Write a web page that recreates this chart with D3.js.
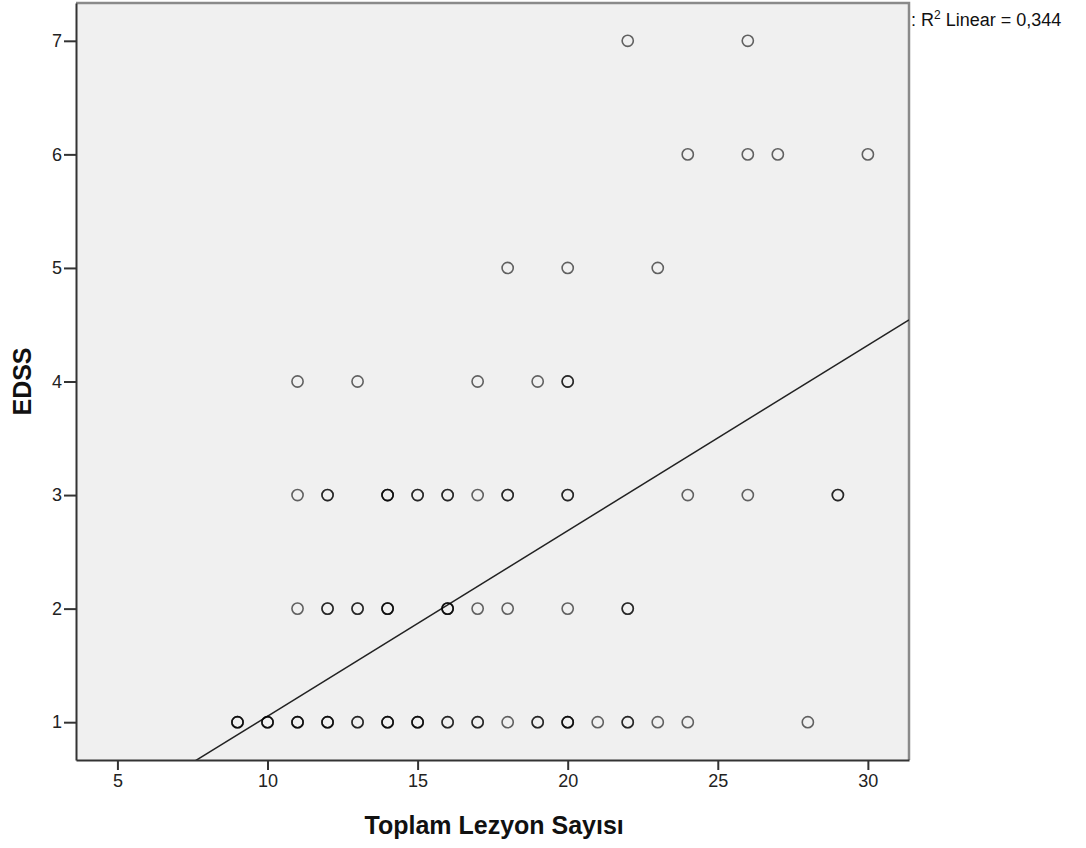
<!DOCTYPE html>
<html>
<head>
<meta charset="utf-8">
<script src="https://cdn.jsdelivr.net/npm/d3@7"></script>
<style>
  body { margin: 0; background: #fff; }
  text { font-family: "Liberation Sans", Arial, sans-serif; }
</style>
</head>
<body>
<script>
// Lesion count (x) and EDSS (y), one entry per case; repeated cases overlap
var lezyon = [
  22, 26,
  24, 26, 27, 30,
  18, 20, 23,
  11, 13, 17, 19, 20, 20,
  11, 12, 12, 14, 14, 14, 15, 15, 16, 16, 17, 18, 18, 20, 20, 24, 26, 29, 29,
  11, 12, 12, 13, 13, 14, 14, 14, 16, 16, 16, 17, 18, 20, 22, 22,
  9, 9, 9, 10, 10, 10, 11, 11, 11, 12, 12, 12, 13, 13, 14, 14, 14, 15, 15, 15,
  16, 16, 17, 17, 18, 19, 19, 20, 20, 20, 21, 22, 22, 23, 24, 28
];
var edss = [
  7, 7,
  6, 6, 6, 6,
  5, 5, 5,
  4, 4, 4, 4, 4, 4,
  3, 3, 3, 3, 3, 3, 3, 3, 3, 3, 3, 3, 3, 3, 3, 3, 3, 3, 3,
  2, 2, 2, 2, 2, 2, 2, 2, 2, 2, 2, 2, 2, 2, 2, 2,
  1, 1, 1, 1, 1, 1, 1, 1, 1, 1, 1, 1, 1, 1, 1, 1, 1, 1, 1, 1,
  1, 1, 1, 1, 1, 1, 1, 1, 1, 1, 1, 1, 1, 1, 1, 1
];

var xTicks = [5, 10, 15, 20, 25, 30];
var yTicks = [1, 2, 3, 4, 5, 6, 7];

// fit line
var fitIntercept = -0.58;
var fitSlope = 0.1633;
var fitLabel = "0,344";

var svgWidth = 1086;
var svgHeight = 848;
var margin = { top: 3, right: 177, bottom: 88, left: 76 };
var chartWidth = svgWidth - margin.left - margin.right;
var chartHeight = svgHeight - margin.top - margin.bottom;

var svg = d3.select("body")
  .append("svg")
  .attr("width", svgWidth)
  .attr("height", svgHeight);

var chartGroup = svg.append("g")
  .attr("transform", `translate(${margin.left}, ${margin.top})`);

var xScale = d3.scaleLinear()
  .domain([3.62, 31.37])
  .range([0, chartWidth]);

var yScale = d3.scaleLinear()
  .domain([0.667, 7.333])
  .range([chartHeight, 0]);

// plot background
chartGroup.append("rect")
  .attr("width", chartWidth)
  .attr("height", chartHeight)
  .attr("fill", "#f0f0f0");

// gray frame on top and right
chartGroup.append("path")
  .attr("d", `M0,0H${chartWidth}V${chartHeight}`)
  .attr("fill", "none")
  .attr("stroke", "#8a8a8a")
  .attr("stroke-width", 2.5);

chartGroup.append("clipPath")
  .attr("id", "plot-clip")
  .append("rect")
  .attr("width", chartWidth)
  .attr("height", chartHeight);

// regression line
var x0 = xScale.domain()[0], x1 = xScale.domain()[1];
chartGroup.append("line")
  .attr("clip-path", "url(#plot-clip)")
  .attr("x1", xScale(x0))
  .attr("y1", yScale(fitIntercept + fitSlope * x0))
  .attr("x2", xScale(x1))
  .attr("y2", yScale(fitIntercept + fitSlope * x1))
  .attr("stroke", "#222")
  .attr("stroke-width", 1.5);

// points
chartGroup.append("g")
  .selectAll("circle")
  .data(d3.range(lezyon.length))
  .enter()
  .append("circle")
  .attr("cx", i => xScale(lezyon[i]))
  .attr("cy", i => yScale(edss[i]))
  .attr("r", 5.6)
  .attr("fill", "none")
  .attr("stroke", "#000")
  .attr("stroke-opacity", 0.6)
  .attr("stroke-width", 1.6);

// axes
var bottomAxis = d3.axisBottom(xScale).tickValues(xTicks).tickFormat(d3.format("d"))
  .tickSize(10).tickSizeOuter(0);
var leftAxis = d3.axisLeft(yScale).tickValues(yTicks).tickFormat(d3.format("d"))
  .tickSize(12).tickSizeOuter(0);

var xAxisG = chartGroup.append("g")
  .attr("transform", `translate(0, ${chartHeight})`)
  .call(bottomAxis);

var yAxisG = chartGroup.append("g")
  .call(leftAxis);

[xAxisG, yAxisG].forEach(function(g) {
  g.select(".domain").attr("stroke", "#333").attr("stroke-width", 2);
  g.selectAll(".tick line").attr("stroke", "#333").attr("stroke-width", 2);
  g.selectAll(".tick text")
    .attr("fill", "#222")
    .style("font-size", "18px")
    .style("font-family", "'Liberation Sans', Arial, sans-serif");
});
xAxisG.selectAll(".tick text").attr("dy", "0.72em").attr("y", 14);
yAxisG.selectAll(".tick text").attr("x", -14);

// axis titles
svg.append("text")
  .attr("x", margin.left + xScale(17.55))
  .attr("y", 834)
  .attr("text-anchor", "middle")
  .style("font-size", "25px")
  .style("font-weight", "bold")
  .attr("fill", "#111")
  .text("Toplam Lezyon Sayısı");

svg.append("text")
  .attr("transform", `translate(31, ${margin.top + yScale(4)}) rotate(-90)`)
  .attr("text-anchor", "middle")
  .style("font-size", "25px")
  .style("font-weight", "bold")
  .attr("fill", "#111")
  .text("EDSS");

// fit label
var fit = svg.append("text")
  .attr("x", 911)
  .attr("y", 26)
  .style("font-size", "18px")
  .attr("fill", "#111");
fit.append("tspan").text(": R");
fit.append("tspan").attr("dy", -7).style("font-size", "12px").text("2");
fit.append("tspan").attr("dy", 7).text(" Linear = " + fitLabel);
</script>
</body>
</html>
